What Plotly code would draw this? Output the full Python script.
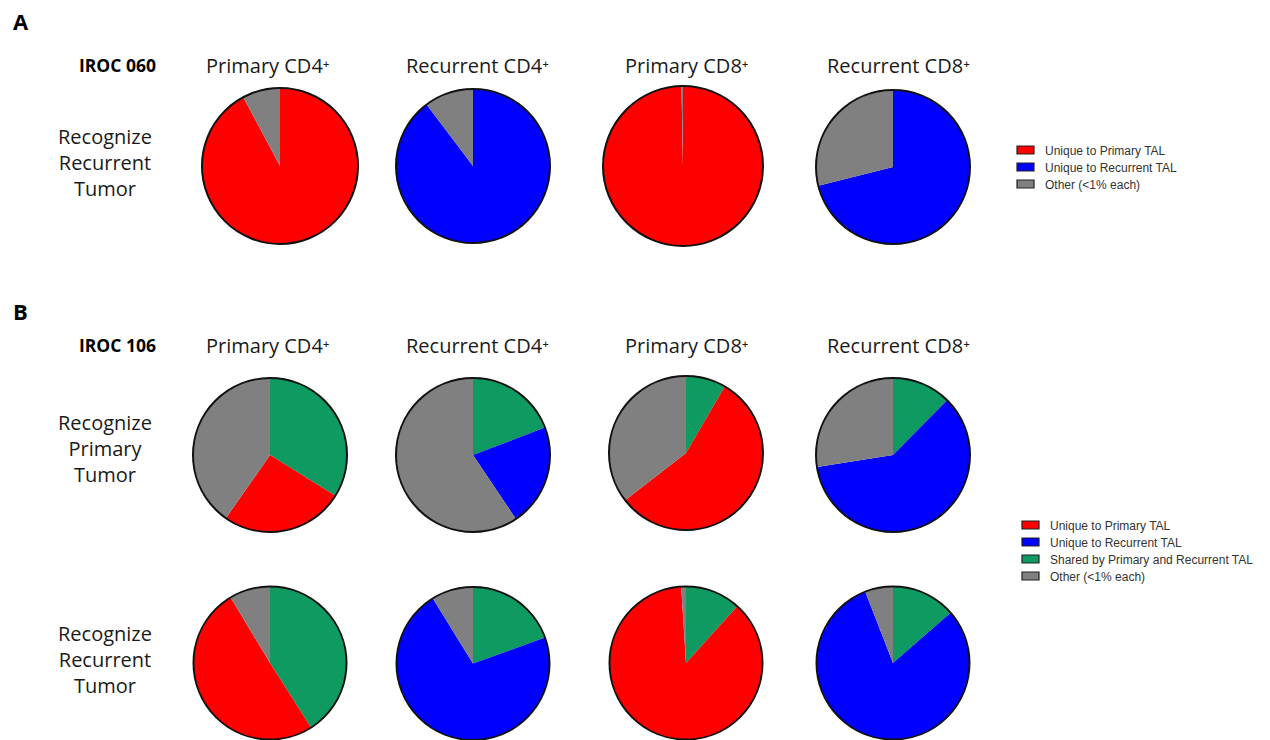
import plotly.graph_objects as go

# Clonotype categories and their colours
categories = ["Shared by Primary and Recurrent TAL", "Unique to Primary TAL",
              "Unique to Recurrent TAL", "Other (<1% each)"]
cat_colors = ["#0e9a60", "#ff0000", "#0000ff", "#808080"]

columns = ["Primary CD4\u207a", "Recurrent CD4\u207a",
           "Primary CD8\u207a", "Recurrent CD8\u207a"]

# IROC 060 - clonotypes recognizing the recurrent tumor (% of reactive TCRs)
iroc060_rec_shared = [0, 0, 0, 0]
iroc060_rec_unique_primary = [92.2, 0, 99.7, 0]
iroc060_rec_unique_recurrent = [0, 89.7, 0, 71.1]
iroc060_rec_other = [7.8, 10.3, 0.3, 28.9]

# IROC 106 - clonotypes recognizing the primary tumor
iroc106_pri_shared = [33.9, 19.2, 8.4, 12.4]
iroc106_pri_unique_primary = [25.8, 0, 56.1, 0]
iroc106_pri_unique_recurrent = [0, 21.4, 0, 60.1]
iroc106_pri_other = [40.3, 59.4, 35.5, 27.5]

# IROC 106 - clonotypes recognizing the recurrent tumor
iroc106_rec_shared = [41.0, 19.5, 11.7, 13.6]
iroc106_rec_unique_primary = [50.4, 0, 87.3, 0]
iroc106_rec_unique_recurrent = [0, 71.7, 0, 80.5]
iroc106_rec_other = [8.6, 8.8, 1.0, 5.9]

W, H = 1270, 740
FONT = "Open Sans"


def px(x):
    return x / W


def py(y):
    return 1 - y / H


# pie centres / radii in pixels for each row of panels
rows = [
    dict(series=(iroc060_rec_shared, iroc060_rec_unique_primary,
                 iroc060_rec_unique_recurrent, iroc060_rec_other),
         centers=[(280, 166, 78), (473, 166, 77), (683, 166, 80), (893, 167, 77)]),
    dict(series=(iroc106_pri_shared, iroc106_pri_unique_primary,
                 iroc106_pri_unique_recurrent, iroc106_pri_other),
         centers=[(270, 455, 77), (473, 455, 77), (686, 453, 77), (893, 455, 77)]),
    dict(series=(iroc106_rec_shared, iroc106_rec_unique_primary,
                 iroc106_rec_unique_recurrent, iroc106_rec_other),
         centers=[(270, 663, 76.5), (473, 663.5, 76.5), (686, 663, 76.5), (893, 663, 76.5)]),
]

fig = go.Figure()

for row in rows:
    for j, (cx, cy, r) in enumerate(row["centers"]):
        dom = dict(x=[max(0, px(cx - r)), min(1, px(cx + r))],
                   y=[max(0, py(cy + r)), min(1, py(cy - r))])
        # keep only the categories present in this pie
        present = [(lab, col, s[j]) for lab, col, s in
                   zip(categories, cat_colors, row["series"]) if s[j] > 0]
        fig.add_trace(go.Pie(
            labels=[p[0] for p in present], values=[p[2] for p in present],
            sort=False, direction="clockwise", rotation=0,
            textinfo="none", hoverinfo="label+percent",
            marker=dict(colors=[p[1] for p in present], line=dict(width=0)),
            domain=dom, showlegend=False,
        ))
        # black outline around the whole pie
        fig.add_trace(go.Pie(
            labels=["outline"], values=[1], textinfo="none", hoverinfo="skip",
            marker=dict(colors=["rgba(0,0,0,0)"], line=dict(color="#111", width=2)),
            domain=dom, showlegend=False,
        ))

ann = []


def text(x, y, s, size=20, bold=False, color="#1a1a1a", xanchor="center", family=FONT):
    ann.append(dict(x=px(x), y=py(y), xref="paper", yref="paper", text=s,
                    showarrow=False, xanchor=xanchor, yanchor="middle",
                    font=dict(family=family, size=size, color=color,
                              weight="bold" if bold else "normal")))


# panel letters and patient ids
text(11, 21, "A", size=22, bold=True, color="#000", xanchor="left")
text(11, 311, "B", size=22, bold=True, color="#000", xanchor="left")
text(117, 65, "IROC 060", size=17.5, bold=True, color="#000")
text(117, 345, "IROC 106", size=17.5, bold=True, color="#000")

# column headers
col_x = [268, 477, 687, 898]
for hy in (65, 345):
    for x, c in zip(col_x, columns):
        text(x, hy, c, size=20)

# row labels
text(105, 162, "Recognize<br>Recurrent<br>Tumor", size=20)
text(105, 448, "Recognize<br>Primary<br>Tumor", size=20)
text(105, 659, "Recognize<br>Recurrent<br>Tumor", size=20)

shapes = []


def legend(x0, y0, items, step=17):
    for k, idx in enumerate(items):
        yc = y0 + k * step
        shapes.append(dict(type="rect", xref="paper", yref="paper",
                           x0=px(x0), x1=px(x0 + 17), y0=py(yc + 4), y1=py(yc - 4),
                           fillcolor=cat_colors[idx], line=dict(color="#222", width=1.2)))
        text(x0 + 26, yc + 1, categories[idx], size=12, color="#333",
             xanchor="left", family="Liberation Sans")


legend(1017, 150, [1, 2, 3])
legend(1022, 525, [1, 2, 0, 3])

fig.update_layout(
    width=W, height=H, margin=dict(l=0, r=0, t=0, b=0),
    paper_bgcolor="white", plot_bgcolor="white",
    annotations=ann, shapes=shapes, showlegend=False,
)

fig.write_html("out.html")
